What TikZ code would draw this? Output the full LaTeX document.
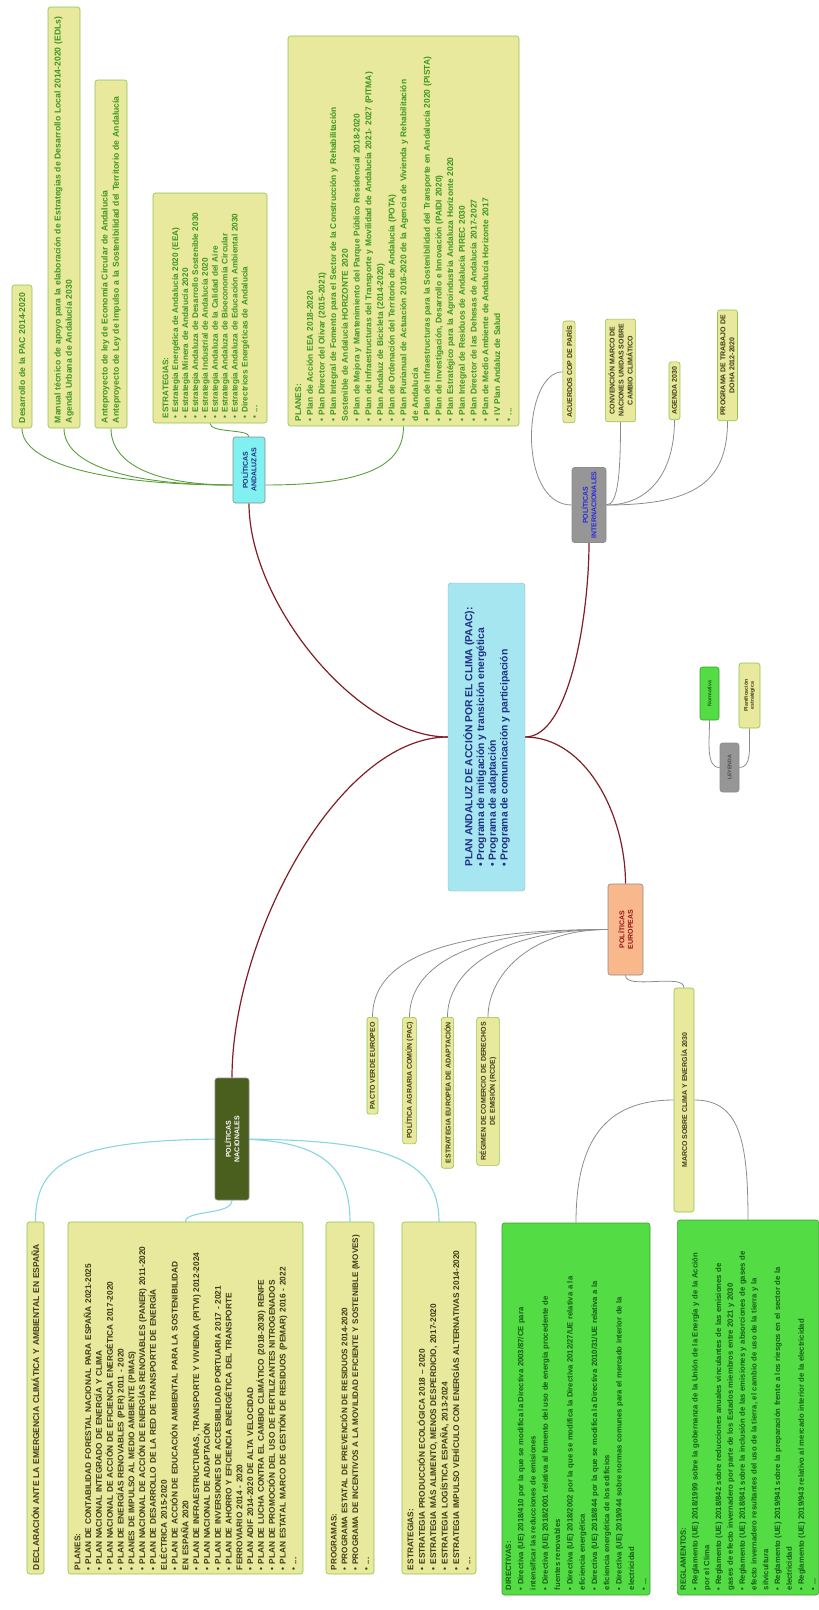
\documentclass[tikz,border=0pt]{standalone}
\usepackage{fontspec}
\setmainfont{Liberation Sans}
\usetikzlibrary{backgrounds,calc}
\definecolor{lineapaac}{RGB}{128,30,36}
\definecolor{lineaand}{RGB}{92,158,60}
\definecolor{lineanac}{RGB}{136,214,224}
\definecolor{lineagris}{RGB}{140,140,140}
\definecolor{fondopaac}{RGB}{166,230,240}
\definecolor{textopaac}{RGB}{30,48,130}
\definecolor{fondoand}{RGB}{128,240,240}
\definecolor{fondointl}{RGB}{150,150,150}
\definecolor{textointl}{RGB}{40,40,220}
\definecolor{fondoeur}{RGB}{248,184,140}
\definecolor{textoeur}{RGB}{150,20,20}
\definecolor{fondonac}{RGB}{74,94,30}
\definecolor{fondoplan}{RGB}{232,233,156}
\definecolor{bordeplan}{RGB}{140,196,80}
\definecolor{fondonorma}{RGB}{84,220,68}
\definecolor{bordenorma}{RGB}{60,160,48}
\definecolor{textoverde}{RGB}{62,150,30}
\definecolor{textooscuro}{RGB}{62,60,24}
\definecolor{textonorma}{RGB}{22,92,22}

\begin{document}
\begin{tikzpicture}[x=1pt,y=-1pt,line cap=round,line join=round,
  caja/.style={rotate=90,rounded corners=2.5pt,line width=0.6pt,inner xsep=5pt,inner ysep=3pt,
    font=\fontsize{8.6}{11.2}\selectfont\bfseries},
  plan/.style={caja,fill=fondoplan,draw=bordeplan,align=left},
  nacional/.style={plan,text=textooscuro,inner xsep=4pt,text width=344pt,
    font=\fontsize{8.3}{10.8}\selectfont\bfseries},
  norma/.style={caja,fill=fondonorma,draw=bordenorma,text=textonorma,align=left,
    font=\fontsize{7.7}{12.3}\selectfont\bfseries},
  etiqueta/.style={caja,fill=fondoplan,draw=bordeplan,text=textooscuro,align=center,
    font=\fontsize{7}{9}\selectfont\bfseries},
  hub/.style={rotate=90,rounded corners=2.5pt,line width=0.6pt,draw=black!45,align=center,
    inner sep=2pt,font=\fontsize{7}{8.5}\selectfont\bfseries},
  ramapaac/.style={draw=lineapaac,line width=1.2pt},
  ramaand/.style={draw=lineaand,line width=0.9pt},
  ramanac/.style={draw=lineanac,line width=1.1pt},
  ramagris/.style={draw=lineagris,line width=0.8pt}]
\useasboundingbox (0,0) rectangle (819,1610);

% nodo central
\node[rotate=90,fill=fondopaac,draw=fondopaac!80!black,line width=0.4pt,rounded corners=3pt,
  align=left,text=textopaac,font=\fontsize{10.3}{11.7}\selectfont\bfseries,
  minimum width=308pt,minimum height=77pt] (paac) at (486.5,737)
  {PLAN ANDALUZ DE ACCIÓN POR EL CLIMA (PAAC):\\
   • Programa de mitigación y transición energética\\
   • Programa de adaptación\\
   • Programa de comunicación y participación};

% ramas principales
\node[hub,fill=fondoand,text=textopaac,minimum width=66pt,minimum height=32pt] (andaluzas) at (249,470) {POLÍTICAS\\ANDALUZAS};
\node[hub,fill=fondointl,text=textointl,minimum width=75pt,minimum height=34pt] (internacionales) at (589,505) {POLÍTICAS\\INTERNACIONALES};
\node[hub,fill=fondoeur,text=textoeur,minimum width=91pt,minimum height=35pt] (europeas) at (625.5,929.5) {POLÍTICAS\\EUROPEAS};
\node[hub,fill=fondonac,text=white,minimum width=122pt,minimum height=34pt] (nacionales) at (232,1139) {POLÍTICAS\\NACIONALES};

% politicas andaluzas
\node[plan,text=textoverde,text width=133pt,minimum height=20pt] (pac) at (22,356.5) {Desarrollo de la PAC 2014-2020};
\node[plan,text=textoverde,text width=411pt,minimum height=32pt] (manual) at (64,217.5)
  {Manual técnico de apoyo para la elaboración de Estrategias de Desarrollo Local 2014-2020 (EDLs)\\
   Agenda Urbana de Andalucía 2030};
\node[plan,text=textoverde,text width=338pt,minimum height=32pt] (anteproyecto) at (111,254)
  {Anteproyecto de ley de Economía Circular de Andalucía\\
   Anteproyecto de Ley de Impulso a la Sostenibilidad del Territorio de Andalucía};
\node[plan,text=textoverde,text width=220pt,minimum height=114pt,font=\fontsize{8.2}{9.9}\selectfont\bfseries] (estrategiasand) at (210,308)
  {ESTRATEGIAS:\\
   • Estrategia Energética de Andalucía 2020 (EEA)\\
   • Estrategia Minera de Andalucía 2020\\
   • Estrategia Andaluza de Desarrollo Sostenible 2030\\
   • Estrategia Industrial de Andalucía 2020\\
   • Estrategia Andaluza de la Calidad del Aire\\
   • Estrategia Andaluza de Bioeconomía Circular\\
   • Estrategia Andaluza de Educación Ambiental 2030\\
   • Directrices Energéticas de Andalucía\\
   • ...};
\node[plan,text=textoverde,text width=380pt,minimum height=231pt,font=\fontsize{8.4}{11.7}\selectfont\bfseries] (planesand) at (403.5,231)
  {PLANES:\\
   • Plan de Acción EEA 2018-2020\\
   • Plan Director del Olivar (2015-2021)\\
   • Plan Integral de Fomento para el Sector de la Construcción y Rehabilitación\\
   Sostenible de Andalucía HORIZONTE 2020\\
   • Plan de Mejora y Mantenimiento del Parque Público Residencial 2018-2020\\
   • Plan de Infraestructuras del Transporte y Movilidad de Andalucía 2021- 2027 (PITMA)\\
   • Plan Andaluz de Bicicleta (2014-2020)\\
   • Plan de Ordenación del Territorio de Andalucía (POTA)\\
   • Plan Plurianual de Actuación 2016-2020 de la Agencia de Vivienda y Rehabilitación\\
   de Andalucía\\
   • Plan de Infraestructuras para la Sostenibilidad del Transporte en Andalucía 2020 (PISTA)\\
   • Plan de Investigación, Desarrollo e Innovación (PAIDI 2020)\\
   • Plan Estratégico para la Agroindustria Andaluza Horizonte 2020\\
   • Plan Integral de Residuos de Andalucía PIREC 2030\\
   • Plan Director de las Dehesas de Andalucía 2017-2027\\
   • Plan de Medio Ambiente de Andalucía Horizonte 2017\\
   • IV Plan Andaluz de Salud\\
   • ...};

% politicas internacionales
\node[etiqueta,anchor=west] (cop) at (569,423) {ACUERDOS COP DE PARÍS};
\node[etiqueta,anchor=west] (cmnucc) at (620.5,422) {CONVENCIÓN MARCO DE\\NACIONES UNIDAS SOBRE\\CAMBIO CLIMÁTICO};
\node[etiqueta,anchor=west] (agenda) at (674.5,420) {AGENDA 2030};
\node[etiqueta,anchor=west] (doha) at (727.5,421) {PROGRAMA DE TRABAJO DE\\DOHA 2012-2020};

% politicas europeas
\node[etiqueta,anchor=east] (pacto) at (372.5,1017) {PACTO VERDE EUROPEO};
\node[etiqueta,anchor=east] (pacue) at (409.5,1017) {POLÍTICA AGRARIA COMÚN (PAC)};
\node[etiqueta,anchor=east] (adaptacion) at (447.5,1017) {ESTRATEGIA EUROPEA DE ADAPTACIÓN};
\node[etiqueta,anchor=east] (rcde) at (488,1017) {RÉGIMEN DE COMERCIO DE DERECHOS\\DE EMISIÓN (RCDE)};
\node[etiqueta,minimum width=224pt,minimum height=20pt] (marco) at (684,1100) {MARCO SOBRE CLIMA Y ENERGÍA 2030};
\node[norma,text width=362pt,minimum height=148pt] (directivas) at (576,1409)
  {DIRECTIVAS:\\
   • Directiva (UE) 2018/410 por la que se modifica la Directiva 2003/87/CE para\\
   intensificar las reducciones de emisiones\\
   • Directiva (UE) 2018/2001 relativa al fomento del uso de energía procedente de\\
   fuentes renovables\\
   • Directiva (UE) 2018/2002 por la que se modifica la Directiva 2012/27/UE relativa a la\\
   eficiencia energética\\
   • Directiva (UE) 2018/844 por la que se modifica la Directiva 2010/31/UE relativa a la\\
   eficiencia energética de los edificios\\
   • Directiva (UE) 2019/944 sobre normas comunes para el mercado interior de la\\
   electricidad\\
   • ...};
\node[norma,text width=365pt,minimum height=140pt,font=\fontsize{7.7}{11.8}\selectfont\bfseries] (reglamentos) at (748,1407.5)
  {REGLAMENTOS:\\
   • Reglamento (UE) 2018/1999 sobre la gobernanza de la Unión de la Energía y de la Acción\\
   por el Clima\\
   • Reglamento (UE) 2018/842 sobre reducciones anuales vinculantes de las emisiones de\\
   gases de efecto invernadero por parte de los Estados miembros entre 2021 y 2030\\
   • Reglamento (UE) 2018/841 sobre la inclusión de las emisiones y absorciones de gases de\\
   efecto invernadero resultantes del uso de la tierra, el cambio de uso de la tierra y la\\
   silvicultura\\
   • Reglamento (UE) 2019/941 sobre la preparación frente a los riesgos en el sector de la\\
   electricidad\\
   • Reglamento (UE) 2019/943 relativo al mercado interior de la electricidad\\
   • ...};

% politicas nacionales
\node[nacional,minimum height=17pt,font=\fontsize{8.5}{10.8}\selectfont\bfseries] (declaracion) at (35.5,1398)
  {DECLARACIÓN ANTE LA EMERGENCIA CLIMÁTICA Y AMBIENTAL EN ESPAÑA};
\node[nacional,minimum height=235pt] (planesnac) at (185.5,1398)
  {PLANES:\\
   • PLAN DE CONTABILIDAD FORESTAL NACIONAL PARA ESPAÑA 2021-2025\\
   • PLAN NACIONAL INTEGRADO DE ENERGÍA Y CLIMA\\
   • PLAN NACIONAL DE ACCIÓN DE EFICIENCIA ENERGÉTICA 2017-2020\\
   • PLAN DE ENERGÍAS RENOVABLES (PER) 2011 - 2020\\
   • PLANES DE IMPULSO AL MEDIO AMBIENTE (PIMAS)\\
   • PLAN NACIONAL DE ACCIÓN DE ENERGÍAS RENOVABLES (PANER) 2011-2020\\
   • PLAN DE DESARROLLO DE LA RED DE TRANSPORTE DE ENERGÍA\\
   ELÉCTRICA 2015-2020\\
   • PLAN DE ACCIÓN DE EDUCACIÓN AMBIENTAL PARA LA SOSTENIBILIDAD\\
   EN ESPAÑA 2020\\
   • PLAN DE INFRAESTRUCTURAS, TRANSPORTE Y VIVIENDA (PITVI) 2012-2024\\
   • PLAN NACIONAL DE ADAPTACIÓN\\
   • PLAN DE INVERSIONES DE ACCESIBILIDAD PORTUARIA 2017 - 2021\\
   • PLAN DE AHORRO Y EFICIENCIA ENERGÉTICA DEL TRANSPORTE\\
   FERROVIARIO 2014 - 2020\\
   • PLAN ADIF 2014-2020 DE ALTA VELOCIDAD\\
   • PLAN DE LUCHA CONTRA EL CAMBIO CLIMÁTICO (2018-2030) RENFE\\
   • PLAN DE PROMOCIÓN DEL USO DE FERTILIZANTES NITROGENADOS\\
   • PLAN ESTATAL MARCO DE GESTIÓN DE RESIDUOS (PEMAR) 2016 - 2022\\
   • ...};
\node[nacional,minimum height=48pt,font=\fontsize{8.1}{10.8}\selectfont\bfseries] (programasnac) at (350,1398)
  {PROGRAMAS:\\
   • PROGRAMA ESTATAL DE PREVENCIÓN DE RESIDUOS 2014-2020\\
   • PROGRAMA DE INCENTIVOS A LA MOVILIDAD EFICIENTE Y SOSTENIBLE (MOVES)\\
   • ...};
\node[nacional,minimum height=74pt,font=\fontsize{8.3}{11.4}\selectfont\bfseries] (estrategiasnac) at (439,1398)
  {ESTRATEGIAS:\\
   • ESTRATEGIA PRODUCCIÓN ECOLÓGICA 2018 – 2020\\
   • ESTRATEGIA MÁS ALIMENTO, MENOS DESPERDICIO, 2017-2020\\
   • ESTRATEGIA LOGÍSTICA ESPAÑA, 2013-2024\\
   • ESTRATEGIA IMPULSO VEHÍCULO CON ENERGÍAS ALTERNATIVAS 2014-2020\\
   • ...};

% leyenda
\node[hub,fill=fondointl,text=black!70,font=\fontsize{5.2}{6.2}\selectfont\bfseries,minimum width=49pt,minimum height=19pt] (leyenda) at (729.5,767.5) {LEYENDA};
\node[norma,align=center,font=\fontsize{5.2}{6.2}\selectfont\bfseries,inner xsep=2pt,minimum width=53pt,minimum height=19pt] (normativa) at (709.5,693.5) {Normativa};
\node[plan,align=center,text=textooscuro,font=\fontsize{5.2}{6.2}\selectfont\bfseries,inner xsep=2pt,minimum width=65pt,minimum height=21pt] (planificacion) at (749.5,695.5) {Planificación\\estratégica};

\begin{scope}[on background layer]
% ramas del plan
\draw[ramapaac] (paac.north) .. controls +(-90,0) and +(0,100) .. (andaluzas.west);
\draw[ramapaac] (paac.north) .. controls +(-110,0) and +(0,-140) .. (nacionales.east);
\draw[ramapaac] (paac.south) .. controls +(45,0) and +(0,70) .. (internacionales.west);
\draw[ramapaac] (paac.south) .. controls +(60,0) and +(0,-70) .. (europeas.east);
% andaluzas
\coordinate (andizq) at ($(andaluzas.north)!0.45!(andaluzas.north west)$);
\coordinate (andder) at ($(andaluzas.south)!0.45!(andaluzas.south west)$);
\draw[ramaand] (andizq) .. controls +(-130,0) and +(0,35) .. (pac.west);
\draw[ramaand] (andizq) .. controls +(-110,0) and +(0,35) .. (manual.west);
\draw[ramaand] (andizq) .. controls +(-80,0) and +(0,35) .. (anteproyecto.west);
\draw[ramaand] (andaluzas.east) .. controls +(0,-8) and +(0,10) .. (estrategiasand.west);
\draw[ramaand] (andder) .. controls +(110,0) and +(0,35) .. (planesand.west);
% internacionales
\draw[ramagris] (internacionales.north) .. controls +(-55,0) and +(-40,0) .. (cop.north);
\draw[ramagris] (internacionales.south) .. controls +(12,0) and +(0,50) .. (cmnucc.west);
\draw[ramagris] (internacionales.south) .. controls +(45,0) and +(0,50) .. (agenda.west);
\draw[ramagris] (internacionales.south) .. controls +(90,0) and +(0,60) .. (doha.west);
% europeas
\draw[ramagris] (europeas.north) .. controls +(-170,0) and +(0,-55) .. (pacto.east);
\draw[ramagris] (europeas.north) .. controls +(-140,0) and +(0,-50) .. (pacue.east);
\draw[ramagris] (europeas.north) .. controls +(-110,0) and +(0,-45) .. (adaptacion.east);
\draw[ramagris] (europeas.north) .. controls +(-80,0) and +(0,-40) .. (rcde.east);
\draw[ramagris] (europeas.west) .. controls +(0,15) and +(0,-15) .. (marco.east);
\draw[ramagris] (marco.north) .. controls +(-70,0) and +(0,-80) .. (directivas.east);
\draw[ramagris] (marco.south) .. controls +(45,0) and +(0,-80) .. (reglamentos.east);
% nacionales
\draw[ramanac] (nacionales.center) .. controls +(-160,0) and +(0,-60) .. (declaracion.east);
\draw[ramanac] (nacionales.west) .. controls +(0,15) and +(0,-12) .. (planesnac.east);
\draw[ramanac] (nacionales.center) .. controls +(90,0) and +(0,-55) .. (programasnac.east);
\draw[ramanac] (nacionales.center) .. controls +(150,0) and +(0,-65) .. (estrategiasnac.east);
% leyenda
\draw[ramagris] (leyenda.north) .. controls +(-14,0) and +(0,22) .. (normativa.west);
\draw[ramagris] (leyenda.south) .. controls +(12,0) and +(0,22) .. (planificacion.west);
\end{scope}
\end{tikzpicture}
\end{document}
